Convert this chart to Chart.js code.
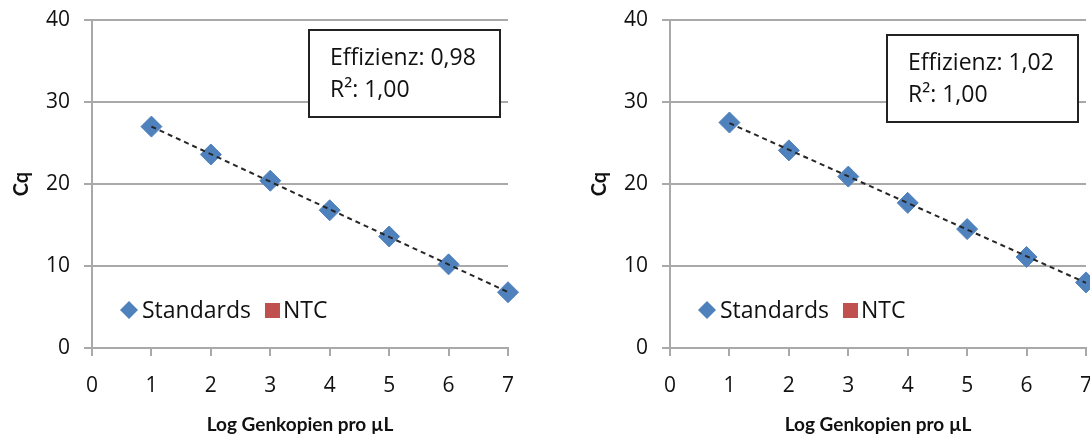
<!DOCTYPE html>
<html lang="de">
<head>
<meta charset="UTF-8">
<title>Standardkurven</title>
<script src="https://cdn.jsdelivr.net/npm/chart.js@4.4.1/dist/chart.umd.min.js"></script>
<style>
    html, body { margin: 0; padding: 0; background: #fff; }
    body { width: 1090px; height: 438px; overflow: hidden; position: relative; }
    canvas { position: absolute; top: 0; }
    #chartLeft { left: 0; }
    #chartRight { left: 578px; }
</style>
</head>
<body>
<canvas id="chartLeft" width="545" height="438"></canvas>
<canvas id="chartRight" width="545" height="438"></canvas>
<script>
// Daten
const logCopies = [1, 2, 3, 4, 5, 6, 7];
const cqLeft = [27.0, 23.6, 20.4, 16.8, 13.6, 10.2, 6.8];
const cqRight = [27.5, 24.1, 20.9, 17.7, 14.5, 11.1, 8.0];
const ntcValues = [];
const seriesNames = ["Standards", "NTC"];
const efficiency = ["0,98", "1,02"];
const rSquared = ["1,00", "1,00"];
const xTicks = [0, 1, 2, 3, 4, 5, 6, 7];
const yTicks = [0, 10, 20, 30, 40];

const BLUE = "#4F81BD";
const RED = "#C0504D";
const TEXT = "#111111";
const GRID = "#a9a9a9";

// lineare Regression (Trendlinie)
function linearFit(xs, ys) {
    const n = xs.length;
    const mx = xs.reduce((a, b) => a + b, 0) / n;
    const my = ys.reduce((a, b) => a + b, 0) / n;
    let sxy = 0, sxx = 0;
    xs.forEach((x, i) => {
        sxy += (x - mx) * (ys[i] - my);
        sxx += (x - mx) * (x - mx);
    });
    const slope = sxy / sxx;
    return x => my + slope * (x - mx);
}

// Legende im Diagramm + Textfeld
function overlayPlugin(idx, boxTop) {
    return {
        id: "overlay",
        afterDraw(chart) {
            const { ctx, chartArea: area } = chart;
            ctx.save();

            const ly = area.bottom - 38;
            let x = area.left + 37;
            ctx.fillStyle = BLUE;
            ctx.beginPath();
            ctx.moveTo(x - 9, ly);
            ctx.lineTo(x, ly - 9);
            ctx.lineTo(x + 9, ly);
            ctx.lineTo(x, ly + 9);
            ctx.closePath();
            ctx.fill();

            ctx.font = "23px 'Open Sans'";
            ctx.textBaseline = "alphabetic";
            ctx.fillStyle = TEXT;
            x = area.left + 50;
            ctx.fillText(seriesNames[0], x, area.bottom - 30);
            x += ctx.measureText(seriesNames[0]).width + 14;
            ctx.fillStyle = RED;
            ctx.fillRect(x, area.bottom - 45, 15, 15);
            ctx.fillStyle = TEXT;
            ctx.fillText(seriesNames[1], x + 18, area.bottom - 30);

            const bx = area.left + 217, by = area.top + boxTop;
            const bw = 191, bh = 87;
            ctx.fillStyle = "#fff";
            ctx.fillRect(bx, by, bw, bh);
            ctx.lineWidth = 2;
            ctx.strokeStyle = "#222";
            ctx.strokeRect(bx, by, bw, bh);
            ctx.fillStyle = TEXT;
            ctx.fillText("Effizienz: " + efficiency[idx], bx + 21, by + 35);
            ctx.fillText("R²: " + rSquared[idx], bx + 21, by + 67);

            ctx.restore();
        }
    };
}

// Diagramm erstellen
function renderCurve(canvasId, cq, idx, boxTop) {
    const ctx = document.getElementById(canvasId).getContext("2d");
    const fit = linearFit(logCopies, cq);
    const x0 = logCopies[0], x1 = logCopies[logCopies.length - 1];

    return new Chart(ctx, {
        type: "scatter",
        data: {
            datasets: [
                {
                    label: "Trend",
                    data: [{ x: x0, y: fit(x0) }, { x: x1, y: fit(x1) }],
                    showLine: true,
                    borderColor: "#262626",
                    borderWidth: 2,
                    borderDash: [5, 4],
                    pointRadius: 0,
                    clip: false,
                    order: 0
                },
                {
                    label: seriesNames[0],
                    data: logCopies.map((x, i) => ({ x: x, y: cq[i] })),
                    pointStyle: "rectRot",
                    pointRadius: 10.5,
                    backgroundColor: BLUE,
                    borderColor: BLUE,
                    borderWidth: 1,
                    clip: false,
                    order: 1
                },
                {
                    label: seriesNames[1],
                    data: ntcValues,
                    pointStyle: "rect",
                    backgroundColor: RED,
                    borderColor: RED,
                    order: 2
                }
            ]
        },
        options: {
            responsive: false,
            animation: false,
            layout: {
                padding: { left: 0, top: 20, right: 37, bottom: 0 }
            },
            plugins: {
                legend: { display: false },
                tooltip: { enabled: false }
            },
            scales: {
                x: {
                    type: "linear",
                    min: xTicks[0],
                    max: xTicks[xTicks.length - 1],
                    afterFit: scale => { scale.height = 90; },
                    ticks: {
                        stepSize: xTicks[1] - xTicks[0],
                        color: TEXT,
                        padding: 17,
                        font: { family: "'Open Sans'", size: 21 }
                    },
                    grid: {
                        drawOnChartArea: false,
                        drawTicks: true,
                        tickLength: 8,
                        color: GRID,
                        lineWidth: 2
                    },
                    border: { display: true, color: GRID, width: 2 },
                    title: {
                        display: true,
                        text: "Log Genkopien pro µL",
                        color: TEXT,
                        padding: { top: 0, bottom: 2 },
                        font: { family: "Lato", size: 19, weight: "bold" }
                    }
                },
                y: {
                    type: "linear",
                    min: yTicks[0],
                    max: yTicks[yTicks.length - 1],
                    // feste Breite, Label-Padding nicht in den Plotbereich rechnen
                    afterFit: scale => {
                        scale.width = 92;
                        scale.paddingTop = 0;
                        scale.paddingBottom = 0;
                    },
                    ticks: {
                        stepSize: yTicks[1] - yTicks[0],
                        color: TEXT,
                        padding: 14,
                        font: { family: "'Open Sans'", size: 21 }
                    },
                    grid: {
                        drawTicks: true,
                        tickLength: 8,
                        color: GRID,
                        lineWidth: 2
                    },
                    border: { display: true, color: GRID, width: 2 },
                    title: {
                        display: true,
                        text: "Cq",
                        color: TEXT,
                        padding: { top: 10, bottom: 0 },
                        font: { family: "Lato", size: 20, weight: "bold" }
                    }
                }
            }
        },
        plugins: [overlayPlugin(idx, boxTop)]
    });
}

document.addEventListener("DOMContentLoaded", () => {
    renderCurve("chartLeft", cqLeft, 0, 10);
    renderCurve("chartRight", cqRight, 1, 15);
});
</script>
</body>
</html>
